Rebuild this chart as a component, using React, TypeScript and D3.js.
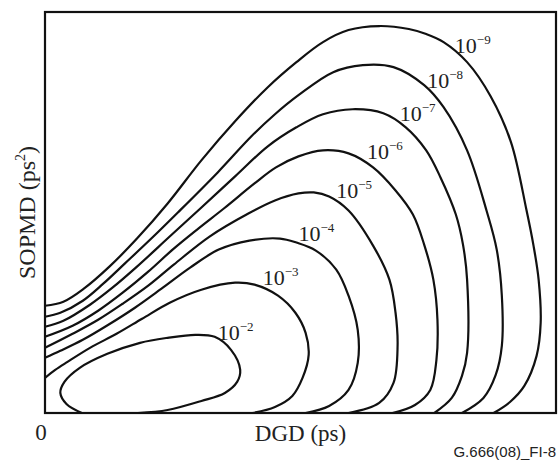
import React from 'react';
import * as d3 from 'd3';

const W = 559;
const H = 461;
const margin = { left: 45, right: 3, top: 12, bottom: 48 };

// probability levels drawn as contours (exponent of 10)
const levels = [-2, -3, -4, -5, -6, -7, -8, -9];

// contour traces, [DGD, SOPMD] in arbitrary units (x 0..50, y 0..40)
const c2 = [[3.6, 0], [2.1, 0.9], [1.5, 2.0], [1.9, 3.1], [3.4, 4.5], [6.1, 5.9], [9.3, 7.0], [12.0, 7.5], [14.7, 7.8], [16.6, 7.6], [18.2, 6.3], [19.1, 4.3], [18.8, 3.1], [17.6, 2.0], [15.3, 1.2], [12.0, 0.3], [9.1, 0]];
const c3 = [[0, 3.5], [1.0, 4.3], [2.2, 5.1], [4.4, 6.5], [7.0, 7.9], [9.5, 9.4], [12.2, 11.0], [15.3, 12.3], [18.6, 13.0], [20.5, 12.8], [22.8, 11.7], [24.5, 10.0], [25.5, 8.0], [25.8, 5.8], [25.2, 3.5], [24.2, 1.7], [22.5, 0.6], [20.3, 0]];
const c4 = [[0, 5.5], [1.5, 6.2], [3.7, 7.3], [6.2, 8.8], [8.8, 10.5], [11.4, 12.4], [14.2, 14.5], [17.0, 16.3], [20.0, 17.2], [23.0, 17.4], [24.6, 17.0], [26.5, 16.2], [28.5, 14.3], [29.7, 11.7], [30.6, 8.3], [30.6, 5.0], [29.7, 2.3], [27.8, 0.7], [25.5, 0]];
const c5 = [[0, 6.5], [2.7, 7.9], [5.2, 9.3], [7.6, 10.9], [10.1, 12.7], [12.6, 14.8], [16.1, 17.6], [19.9, 19.9], [22.5, 21.2], [24.8, 21.9], [26.3, 22.0], [27.8, 21.6], [29.7, 20.2], [32.1, 16.7], [33.7, 13.3], [34.3, 10.0], [34.5, 6.7], [34.1, 3.0], [32.7, 1.0], [29.7, 0]];
const c6 = [[0, 7.6], [2.7, 8.7], [5.2, 10.2], [7.6, 12.0], [10.1, 14.1], [12.6, 16.4], [15.0, 18.4], [17.5, 20.4], [20.5, 22.9], [22.6, 24.5], [24.8, 25.6], [27.2, 26.2], [29.7, 25.9], [32.1, 24.5], [34.3, 22.2], [36.0, 19.8], [37.1, 16.8], [38.0, 13.3], [38.4, 9.3], [38.3, 5.3], [37.7, 2.3], [36.2, 0.8], [34.0, 0]];
const c7 = [[0, 8.6], [1.8, 9.2], [4.4, 10.8], [6.6, 12.5], [9.0, 14.6], [12.2, 17.6], [15.2, 20.4], [18.6, 23.6], [21.8, 26.6], [24.6, 28.5], [27.2, 29.8], [30.1, 30.3], [33.1, 29.9], [35.3, 28.5], [37.3, 26.2], [38.7, 23.5], [40.2, 19.8], [40.9, 16.8], [41.3, 13.3], [41.3, 6.0], [40.8, 3.7], [39.8, 1.5], [38.1, 0]];
const c8 = [[0, 9.6], [1.5, 10.0], [3.7, 11.2], [5.7, 12.9], [7.8, 14.9], [10.3, 17.3], [13.0, 20.0], [16.9, 24.0], [20.2, 27.6], [22.5, 29.8], [24.8, 31.7], [28.2, 34.0], [31.1, 34.7], [34.1, 34.5], [37.1, 32.7], [39.0, 30.5], [41.3, 26.2], [43.2, 20.2], [44.2, 16.3], [44.7, 11.7], [44.7, 6.7], [44.1, 3.8], [42.9, 1.5], [40.8, 0]];
const c9 = [[0, 10.7], [1.8, 11.1], [3.8, 12.4], [6.3, 14.6], [9.0, 17.4], [12.0, 20.9], [15.3, 25.2], [18.6, 29.1], [21.8, 32.5], [24.6, 35.0], [27.2, 37.0], [29.7, 38.2], [32.7, 38.6], [35.6, 38.3], [37.3, 37.8], [39.0, 37.0], [41.3, 35.0], [43.6, 31.6], [45.6, 27.0], [47.1, 20.3], [47.8, 16.7], [48.3, 13.3], [48.5, 9.0], [48.1, 5.7], [46.9, 2.7], [45.5, 1.1], [43.9, 0]];
const contours = [c2, c3, c4, c5, c6, c7, c8, c9];

// where each level label sits (left edge of "10", baseline)
const labelAt = [[16.9, 7.3], [21.3, 12.8], [24.8, 17.2], [28.5, 21.4], [31.5, 25.3], [34.7, 29.1], [37.4, 32.4], [40.1, 35.9]];

const serif = '"Liberation Serif", "Times New Roman", Times, serif';

export default function App() {
  const x = d3.scaleLinear().domain([0, 50]).range([margin.left, W - margin.right]);
  const y = d3.scaleLinear().domain([0, 40]).range([H - margin.bottom, margin.top]);

  const line = d3.line<number[]>()
    .x(d => x(d[0]))
    .y(d => y(d[1]))
    .curve(d3.curveCatmullRom.alpha(0.5));

  return (
    <svg width={W} height={H} style={{ position: 'absolute', left: 0, top: 0, background: '#fff' }}>
      <rect x={x(0)} y={y(40)} width={x(50) - x(0)} height={y(0) - y(40)} fill="none" stroke="#111" strokeWidth={2.2} />
      {contours.map((c, i) => (
        <path key={i} d={line(c) || ''} fill="none" stroke="#111" strokeWidth={2.2} strokeLinejoin="round" />
      ))}
      {levels.map((lv, i) => (
        <text key={lv} x={x(labelAt[i][0])} y={y(labelAt[i][1])} fontFamily={serif} fontSize={22} fill="#222">
          10<tspan dy={-9} fontSize={13}>{'\u2212' + Math.abs(lv)}</tspan>
        </text>
      ))}
      <text x={x(0) - 4} y={440} fontFamily={serif} fontSize={23} textAnchor="middle" fill="#222">0</text>
      <text x={(x(0) + x(50)) / 2} y={441} fontFamily={serif} fontSize={23} textAnchor="middle" fill="#222">DGD (ps)</text>
      <text transform={`translate(35, ${(y(0) + y(40)) / 2}) rotate(-90)`} fontFamily={serif} fontSize={24} textAnchor="middle" fill="#222">
        SOPMD (ps<tspan dy={-10} fontSize={14}>2</tspan><tspan dy={10}>)</tspan>
      </text>
      <text x={W - 3} y={457} fontFamily='"Liberation Sans", Arial, sans-serif' fontSize={15} textAnchor="end" fill="#222">G.666(08)_FI-8</text>
    </svg>
  );
}
